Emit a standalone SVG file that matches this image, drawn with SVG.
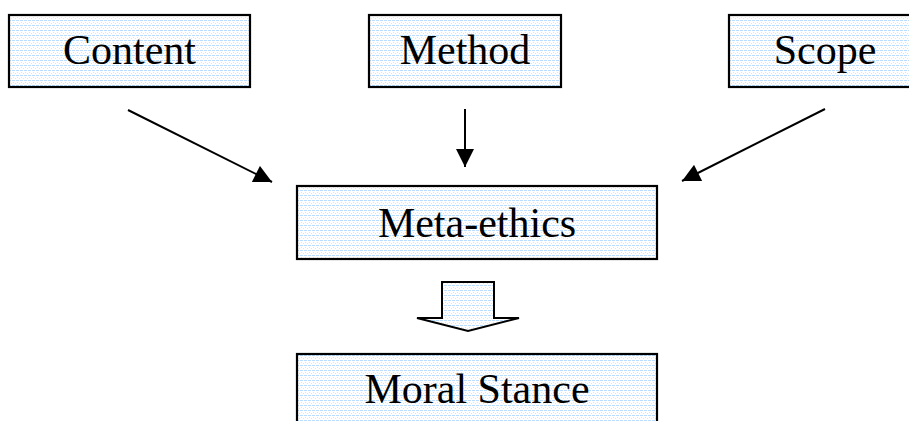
<svg xmlns="http://www.w3.org/2000/svg" width="909" height="421" viewBox="0 0 909 421">
  <defs>
    <!-- light blue dotted grid fill used by every box -->
    <pattern id="grid" width="4" height="5" patternUnits="userSpaceOnUse">
      <rect width="4" height="5" fill="#ffffff"/>
      <rect x="0" y="0" width="3" height="1" fill="#b9dcff"/>
      <rect x="1" y="2" width="1" height="1" fill="#d3e8ff"/>
      <rect x="3" y="3" width="1" height="1" fill="#d3e8ff"/>
    </pattern>
    <marker id="head" viewBox="0 0 10 10" refX="10" refY="5" markerWidth="10" markerHeight="10" markerUnits="userSpaceOnUse" orient="auto">
      <path d="M0,0 L10,5 L0,10 Z" fill="#000"/>
    </marker>
    <marker id="headBig" viewBox="0 0 10 10" refX="10" refY="5" markerWidth="20" markerHeight="18" markerUnits="userSpaceOnUse" orient="auto">
      <path d="M0,0 L10,5 L0,10 Z" fill="#000"/>
    </marker>
  </defs>
  <style>
    .box { fill: url(#grid); stroke: #000; stroke-width: 2.2; }
    .label { font-family: "Liberation Serif", "Times New Roman", serif; font-size: 42px; fill: #000; text-anchor: middle; }
    .conn { stroke: #000; stroke-width: 2; fill: none; }
  </style>
  <rect width="909" height="421" fill="#ffffff"/>

  <g id="content">
    <rect class="box" x="9" y="15" width="241" height="72"/>
    <text class="label" x="129.5" y="64">Content</text>
  </g>
  <g id="method">
    <rect class="box" x="369" y="15" width="192" height="72"/>
    <text class="label" x="465" y="64">Method</text>
  </g>
  <g id="scope">
    <rect class="box" x="729" y="15" width="192" height="72"/>
    <text class="label" x="825" y="64">Scope</text>
  </g>
  <g id="meta-ethics">
    <rect class="box" x="297" y="186" width="360" height="73"/>
    <text class="label" x="477" y="237">Meta-ethics</text>
  </g>
  <g id="moral-stance">
    <rect class="box" x="297" y="354" width="360" height="80"/>
    <text class="label" x="477" y="403">Moral Stance</text>
  </g>

  <g id="connectors">
    <line class="conn" x1="128" y1="110" x2="272" y2="182" marker-end="url(#headBig)"/>
    <line class="conn" x1="465" y1="109" x2="465" y2="167" marker-end="url(#headBig)"/>
    <line class="conn" x1="825" y1="109" x2="682" y2="181" marker-end="url(#headBig)"/>
    <!-- hollow block arrow from Meta-ethics to Moral Stance -->
    <path d="M442,282 L494,282 L494,318 L519,318 L468,331 L417,318 L442,318 Z" fill="url(#grid)" stroke="#000" stroke-width="2" stroke-linejoin="miter"/>
  </g>
</svg>
